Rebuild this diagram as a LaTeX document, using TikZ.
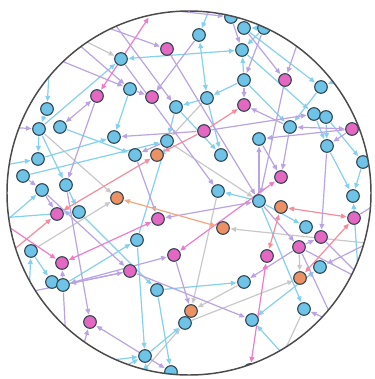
\documentclass[tikz,border=0pt]{standalone}
\usepackage{xcolor}
\usepackage{tikz}
\usetikzlibrary{arrows.meta,backgrounds}
\definecolor{Rim}{HTML}{2E4653}
\definecolor{Ring}{HTML}{4A4A4A}
\definecolor{NodeBlue}{HTML}{6EC3E6}
\definecolor{NodePink}{HTML}{E468C2}
\definecolor{NodeOrange}{HTML}{EC9164}
\definecolor{EdgeBlue}{HTML}{84D0EE}
\definecolor{EdgeLav}{HTML}{B9A3E4}
\definecolor{EdgePink}{HTML}{EE7CCB}
\definecolor{EdgeSalmon}{HTML}{F48C9C}
\definecolor{EdgeOrange}{HTML}{F4A67C}
\definecolor{EdgeGray}{HTML}{C8C8C8}
\tikzset{
  vtx/.style={circle,draw=Rim,line width=.8pt,minimum size=9.5pt,inner sep=0pt},
  vBlue/.style={vtx,fill=NodeBlue},
  vPink/.style={vtx,fill=NodePink},
  vOrange/.style={vtx,fill=NodeOrange},
  link/.style={line width=.9pt,shorten >=.5pt,shorten <=.5pt},
  tip/.style={-{Triangle[length=4.2pt,width=3.6pt]}},
  tips/.style={{Triangle[length=4.2pt,width=3.6pt]}-{Triangle[length=4.2pt,width=3.6pt]}},
  lBlue/.style={link,draw=EdgeBlue},
  lLav/.style={link,draw=EdgeLav},
  lPink/.style={link,draw=EdgePink},
  lSalmon/.style={link,draw=EdgeSalmon},
  lOrange/.style={link,draw=EdgeOrange},
  lGray/.style={link,draw=EdgeGray}
}

\begin{document}
\begin{tikzpicture}[x=.75pt,y=-.75pt]
  \useasboundingbox (0,0) rectangle (375,379);
  % ends of links that leave the disc
  \foreach \n/\x/\y in {p1/149/17,p2/100/25,p3/108/15,p4/55/26,p5/40/11,p6/20/44,
      p7/50/55,p8/212/3,p9/150/8,p10/302/30,p11/365/68,p12/5/127,p13/5/165,
      p14/0/226,p15/0/218,p16/0/261,p17/0/221,p18/29/295,p19/0/298,p20/67/360,
      p21/80/358,p22/80/364,p23/85/386,p24/148/400,p25/118/400,p26/290/362,
      p27/278/365,p28/334/322,p30/366/282,p31/385/235,p32/395/246,p33/360/300,
      p34/392/194,p35/390/128}
    \coordinate (\n) at (\x,\y);
  % vertices
  \begin{scope}
    \clip (189,193) circle [radius=136.5pt];
    \foreach \n/\x/\y in {b1/121/59,b2/130/89,b3/176/107,b4/47/109,b5/39/129,
        b6/60/127,b7/114/137,b8/167/141,b9/135/155,b10/38/159,b11/23/176,
        b12/42/190,b13/66/185,b14/231/17,b15/199/35,b16/244/28,b17/264/28,
        b18/242/50,b19/244/80,b20/321/87,b21/207/98,b22/314/114,b23/326/117,
        b24/290/127,b25/259/139,b26/327/146,b27/363/162,b28/221/155,b29/218/191,
        b30/79/212,b31/31/251,b32/137/240,b33/52/282,b34/63/285,b35/157/290,
        b36/185/323,b37/145/356,b38/171/372,b39/259/201,b40/353/196,b41/306/227,
        b42/320/267,b43/244/282,b44/304/309,b45/252/320}
      \node[vBlue] (\n) at (\x,\y) {};
    \foreach \n/\x/\y in {m1/167/49,m2/97/96,m3/152/97,m4/285/80,m5/244/105,
        m6/352/129,m7/204/131,m8/281/177,m9/57/214,m10/158/219,m11/62/263,
        m12/174/255,m13/130/271,m14/90/322,m15/354/218,m16/321/237,m17/299/247,
        m18/267/256,m19/250/370}
      \node[vPink] (\n) at (\x,\y) {};
    \foreach \n/\x/\y in {o1/157/155,o2/117/198,o3/281/207,o4/223/228,
        o5/300/278,o6/191/311}
      \node[vOrange] (\n) at (\x,\y) {};
  \end{scope}
  % links
  \begin{pgfonlayer}{background}
  \begin{scope}
    \clip (189,193) circle [radius=136.5pt];
    \foreach \a/\b in {p4/b1,b5/o2,b31/o2,b21/b8,b8/b39,b29/o6,b43/o6,m17/o5,
        b36/o5,p32/o4,p25/b36}
      \draw[lGray,tip] (\a) -- (\b);
    \draw[lGray] (b44) -- (p27);
    \foreach \a/\b in {b5/b1,p7/b4,b4/b5,b5/b10,b5/b13,b6/b9,b2/b7,b10/b7,
        p13/b10,b3/b8,b11/b8,b32/b8,b21/b3,b3/b28,b21/b28,p8/b15,b17/b16,
        b16/b20,p11/b20,b20/b24,b17/b18,b19/b18,b18/b22,b19/b21,b19/b24,
        b22/b26,b23/b26,b23/b27,b26/b40,b27/b40,p33/b40,b39/b29,b39/b44,
        b39/b41,b35/b43,p26/b45,p14/b12,p15/b30,b13/b30,b30/b35,b31/b33,
        p18/b31,b34/b32,b32/b37,b35/b38,b37/b36,p22/b37,p23/b37,p24/b37}
      \draw[lBlue,tip] (\a) -- (\b);
    \foreach \a/\b in {b1/b18,b15/b21,b42/b45}
      \draw[lBlue,tips] (\a) -- (\b);
    \foreach \a/\b in {p2/m1,p3/b3,p5/b2,p6/b2,b2/m3,b15/m3,m2/b13,p9/b14,
        b14/b18,b16/m4,p10/m4,b17/b19,b19/m5,b24/m5,m7/b7,m7/b22,m6/b25,
        m6/b26,m6/p35,b39/b25,b24/m8,b25/m8,b26/m16,m1/b39,m4/b39,b1/b29,
        b39/m17,m17/m16,m16/p30,m17/p30,m17/p28,m17/b43,p31/b42,m15/p34,
        b8/b9,b9/m10,p12/b5,b11/b12,b12/m9,b12/m13,b13/m14,p19/m13,m13/b34,
        m13/b45,b34/p20,b34/m11,m12/o6,p21/m14}
      \draw[lLav,tip] (\a) -- (\b);
    \foreach \a/\b in {m2/b6,b24/m6,b39/m10,m12/b34,m14/b38,b44/p28}
      \draw[lLav,tips] (\a) -- (\b);
    \draw[lPink,tip] (p17) -- (m11);
    \foreach \a/\b in {m2/p1,m12/m8,m10/m11,m18/m19}
      \draw[lPink,tips] (\a) -- (\b);
    \foreach \a/\b in {m7/m5,m7/o1,p16/m9}
      \draw[lSalmon,tip] (\a) -- (\b);
    \foreach \a/\b in {o1/m9,o3/m15,o5/m15,o3/m18}
      \draw[lSalmon,tips] (\a) -- (\b);
    \draw[lOrange,tips] (o2) -- (o4);
  \end{scope}
  \end{pgfonlayer}
  \draw[Ring,line width=1.1pt] (189,193) circle [radius=136.5pt];
\end{tikzpicture}
\end{document}
